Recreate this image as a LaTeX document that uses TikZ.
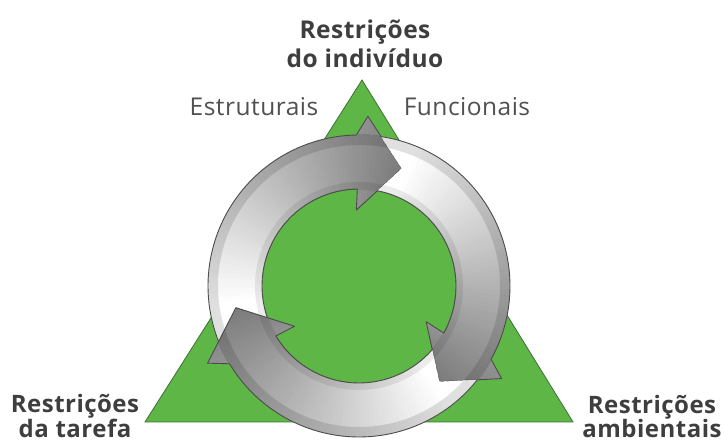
\documentclass[tikz,border=0pt]{standalone}
\usepackage{fontspec}
\setmainfont{Open Sans}[LetterSpace=2.0]
\definecolor{leafgreen}{RGB}{94,182,70}
\definecolor{leafedge}{RGB}{62,112,52}
\definecolor{labelgray}{RGB}{62,62,62}
\definecolor{softgray}{RGB}{80,80,80}
\tikzset{
  mainlabel/.style={font=\bfseries\fontsize{24.5}{29}\selectfont, text=labelgray, align=center, inner sep=0pt},
  sublabel/.style={font=\fontsize{24.5}{28}\selectfont, text=softgray, inner sep=0pt},
  greenpart/.style={fill=leafgreen, draw=leafedge, line width=0.8pt},
  rimline/.style={draw=black!70, line width=0.9pt, line join=round},
}

\begin{document}
\begin{tikzpicture}[x=1pt, y=1pt]
  \useasboundingbox (0,0) rectangle (724,443);

  % Triangle behind everything
  \coordinate (apex) at (362,363);
  \coordinate (lowleft) at (145,21);
  \coordinate (lowright) at (573,21);
  \path[greenpart] (apex) -- (lowleft) -- (lowright) -- cycle;

  % Disk in the middle
  \coordinate (hub) at (359,157);
  \path[greenpart] (hub) circle (97);

  % Three ring arrows, clockwise; each tail is cut to fit the head before it
  \begin{scope}[shift={(hub)}]
    \foreach \T in {70,-50,-170} {
      \pgfmathsetmacro\P{\T+120}
      \begin{scope}
        \clip (\P+11.6:151) arc[start angle=\P+11.6, end angle=\T+21, radius=151]
          -- (\T+17:170) -- (\T:125) -- (\T+22:76) -- (\T+21:97)
          arc[start angle=\T+21, end angle=\P+9, radius=97] -- (\P:125) -- cycle;
        \foreach \i in {0,...,68} {
          \pgfmathsetmacro\a{\P+14-2*\i}
          \pgfmathsetmacro\p{max(0,min(57,(\i-8)*0.88))}
          \fill[black!\p] (0,0) -- (\a+0.6:180)
            arc[start angle=\a+0.6, end angle=\a-2.6, radius=180] -- cycle;
        }
        % tube look along the rims
        \fill[black, opacity=0.12, even odd rule] (0,0) circle (152) (0,0) circle (141);
        \fill[black, opacity=0.08, even odd rule] (0,0) circle (104) (0,0) circle (96);
      \end{scope}
      \draw[rimline] (\P+11.6:151) arc[start angle=\P+11.6, end angle=\T+21, radius=151]
        -- (\T+17:170) -- (\T:125) -- (\T+22:76) -- (\T+21:97)
        arc[start angle=\T+21, end angle=\P+9, radius=97];
    }
  \end{scope}

  % Labels
  \node[mainlabel, anchor=south] (individuo) at (365,375) {Restrições\\do indivíduo};
  \node[sublabel, anchor=base] (estruturais) at (254,327) {Estruturais};
  \node[sublabel, anchor=base] (funcionais) at (467,327) {Funcionais};
  \node[mainlabel, anchor=south, font=\bfseries\fontsize{24}{24}\selectfont] (tarefa) at (75,5) {Restrições\\da tarefa};
  \node[mainlabel, anchor=south, font=\bfseries\fontsize{24}{24}\selectfont] (ambientais) at (652,5) {Restrições\\ambientais};
\end{tikzpicture}
\end{document}
